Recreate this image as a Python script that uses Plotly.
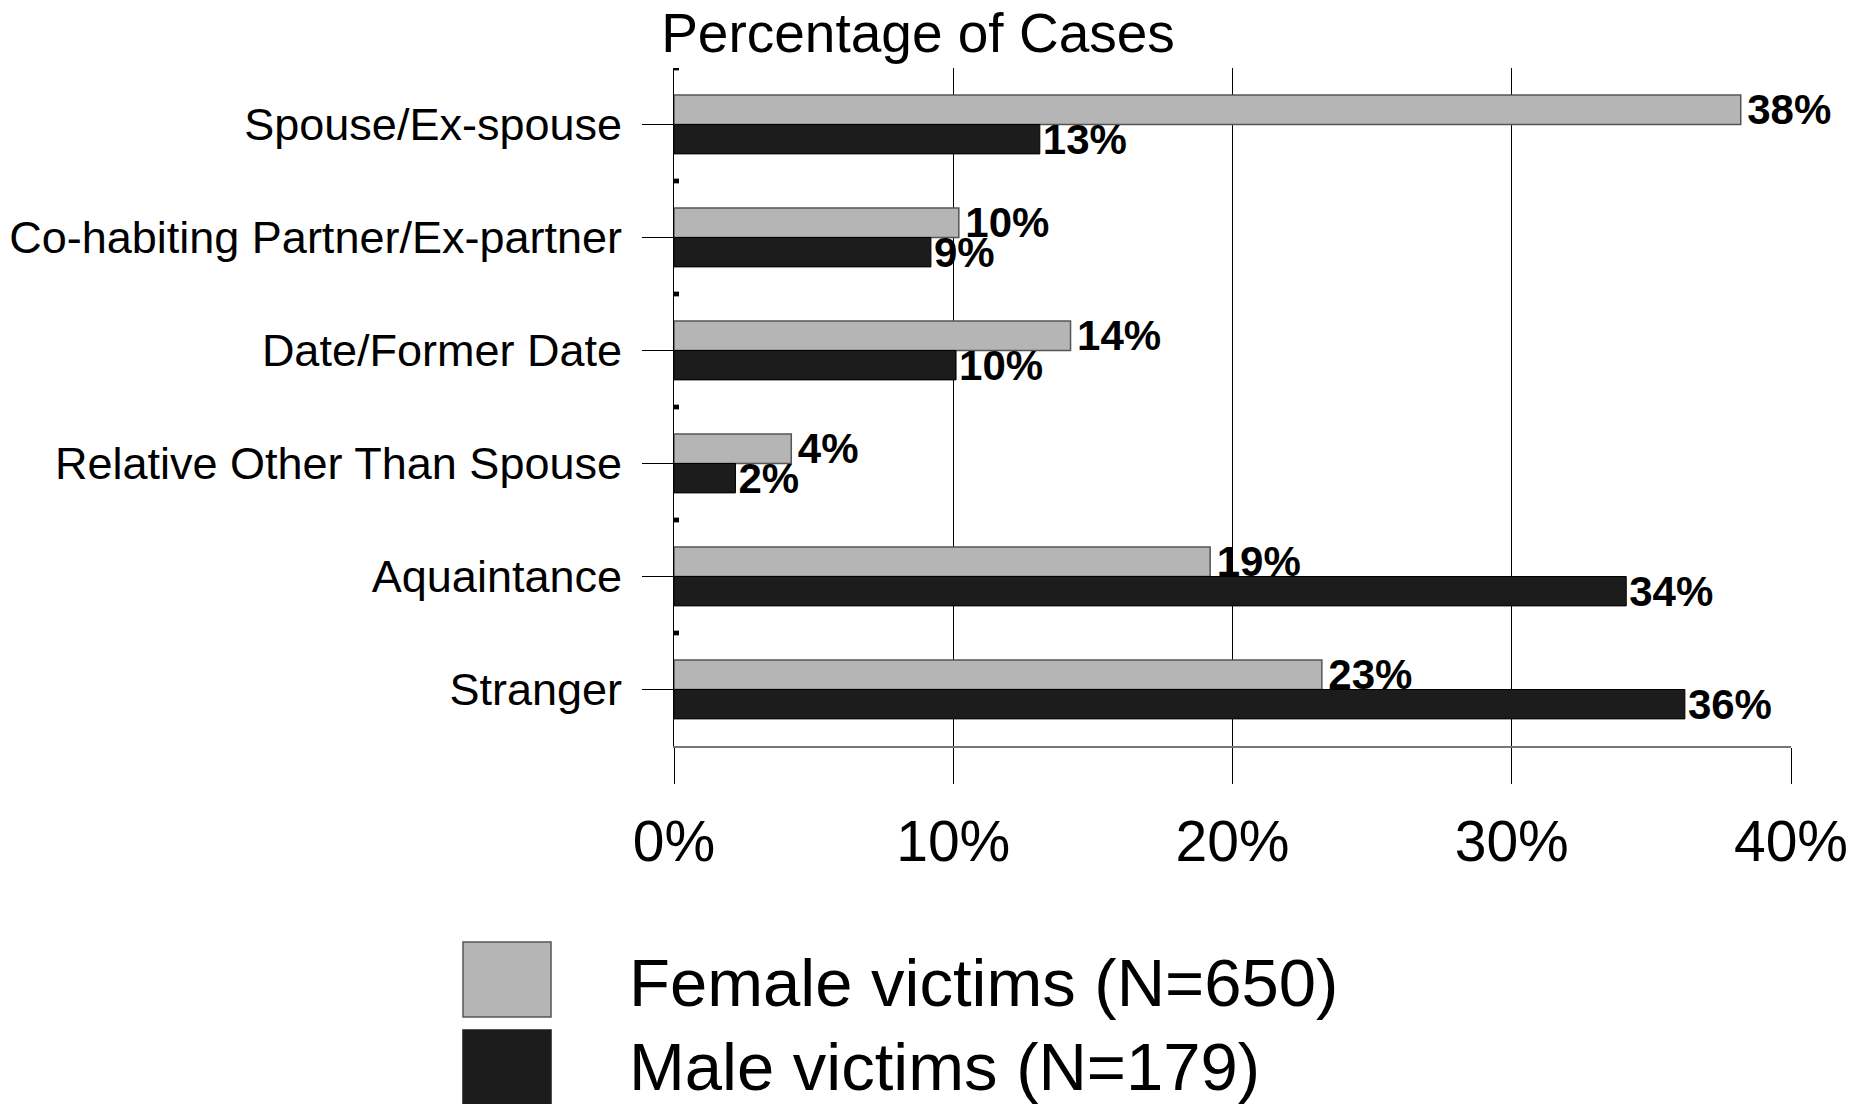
import plotly.graph_objects as go

# ---- data ----
categories = [
    "Spouse/Ex-spouse",
    "Co-habiting Partner/Ex-partner",
    "Date/Former Date",
    "Relative Other Than Spouse",
    "Aquaintance",
    "Stranger",
]
female_values = [38.2, 10.2, 14.2, 4.2, 19.2, 23.2]
male_values = [13.1, 9.2, 10.1, 2.2, 34.1, 36.2]
series_names = ["Female victims (N=650)", "Male victims (N=179)"]
x_tick_values = [0, 10, 20, 30, 40]
x_tick_labels = ["0%", "10%", "20%", "30%", "40%"]
title_text = "Percentage of Cases"

# ---- layout geometry (pixels, page has an 8px body margin) ----
OFF = 8
W, H = 1866 - OFF, 1104 - OFF
PL, PR, PT, PB = 674 - OFF, 1791 - OFF, 68 - OFF, 746 - OFF
FONT = "Liberation Sans, Arial, sans-serif"
female_color = "#b5b5b5"
male_color = "#1c1c1c"


def px_x(px):
    return (px - OFF - PL) / (PR - PL)


def px_y(py):
    return (PB - (py - OFF)) / (PB - PT)


label_font = dict(family=FONT, size=42, color="black", weight="bold")

fig = go.Figure()
fig.add_trace(go.Bar(
    y=categories, x=female_values, orientation="h", name=series_names[0],
    marker=dict(color=female_color, line=dict(color="#555555", width=1.5)),
    text=[f"\u200a{round(v)}%" for v in female_values], textposition="outside",
    constraintext="none", cliponaxis=False, textfont=label_font,
))
fig.add_trace(go.Bar(
    y=categories, x=male_values, orientation="h", name=series_names[1],
    marker=dict(color=male_color, line=dict(color="#000000", width=1)),
    text=[f"{round(v)}%" for v in male_values], textposition="outside",
    constraintext="none", cliponaxis=False, textfont=label_font,
))

shapes = []
# small boundary marks on the left axis
for i in range(len(categories)):
    shapes.append(dict(type="rect", xref="paper", yref="y",
                       x0=0, x1=5 / (PR - PL), y0=i - 0.5 - 0.021, y1=i - 0.5 + 0.021,
                       fillcolor="black", line=dict(width=0), layer="above"))

annotations = []
# manual legend
legend_boxes = [(942, 1017, female_color, "#555555"), (1030, 1112, male_color, male_color)]
legend_text_y = [982, 1066]
for (y0, y1, fc, lc), ty, name in zip(legend_boxes, legend_text_y, series_names):
    shapes.append(dict(type="rect", xref="paper", yref="paper",
                       x0=px_x(463), x1=px_x(551), y0=px_y(y1), y1=px_y(y0),
                       fillcolor=fc, line=dict(color=lc, width=1.5)))
    annotations.append(dict(xref="paper", yref="paper", x=px_x(627), y=px_y(ty),
                            xanchor="left", yanchor="middle", showarrow=False,
                            text=name, font=dict(family=FONT, size=67, color="black")))

fig.update_layout(
    width=W, height=H,
    margin=dict(l=PL, r=W - PR, t=PT, b=H - PB, pad=0),
    paper_bgcolor="white", plot_bgcolor="white",
    barmode="group", bargap=0.48, bargroupgap=0,
    showlegend=False,
    title=dict(text=title_text, xref="container", yref="container",
               x=(918 - OFF) / W, y=1 - (33 - OFF) / H, xanchor="center", yanchor="middle",
               font=dict(family=FONT, size=55, color="black")),
    xaxis=dict(range=[0, 40], tickvals=x_tick_values, ticktext=x_tick_labels,
               automargin=False,
               showgrid=True, gridcolor="black", gridwidth=1, zeroline=False,
               showline=True, linecolor="#777777", linewidth=2,
               ticks="outside", ticklen=36, tickcolor="black", tickwidth=1,
               ticklabelstandoff=9,
               tickfont=dict(family=FONT, size=57, color="black")),
    yaxis=dict(categoryorder="array", categoryarray=categories,
               range=[len(categories) - 0.5, -0.5],
               automargin=False,
               showgrid=False, zeroline=False,
               showline=True, linecolor="black", linewidth=1,
               ticks="outside", ticklen=31, tickcolor="black", tickwidth=1,
               ticklabelstandoff=11,
               tickfont=dict(family=FONT, size=45, color="black")),
    shapes=shapes, annotations=annotations,
)

fig.write_html("out.html")
